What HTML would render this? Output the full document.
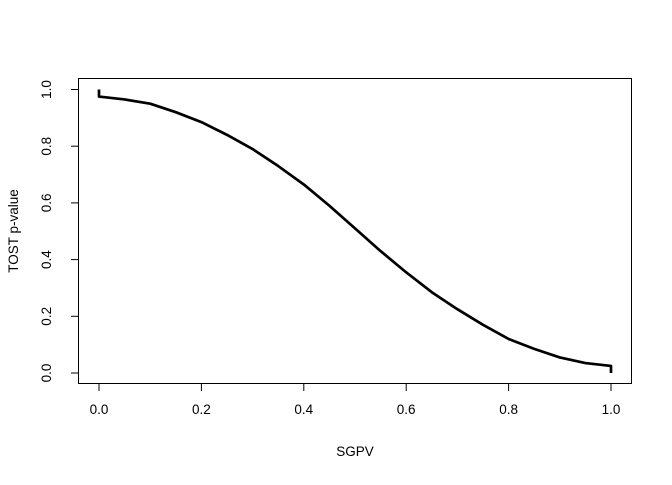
<!DOCTYPE html>
<html><head><meta charset="utf-8"><style>
body{margin:0;background:#fff}
svg text{font-family:"Liberation Sans",Arial,sans-serif;font-size:13.5px;fill:#000}
</style></head><body>
<svg width="672" height="480" viewBox="0 0 672 480">
<rect x="78.5" y="78.5" width="553" height="305" fill="none" stroke="#000"/>
<g id="xaxis"></g>
<g id="yaxis"></g>
<path id="curve" fill="none" stroke="#000" stroke-width="2.7" stroke-linejoin="round"/>
<text x="355" y="456" text-anchor="middle">SGPV</text>
<text transform="translate(18,231) rotate(-90)" text-anchor="middle">TOST p-value</text>
</svg>
<script>
const xTicks=[0,0.2,0.4,0.6,0.8,1.0];
const yTicks=[0,0.2,0.4,0.6,0.8,1.0];
const sgpv=[0,0,0.05,0.1,0.15,0.2,0.25,0.3,0.35,0.4,0.45,0.5,0.55,0.6,0.65,0.7,0.75,0.8,0.85,0.9,0.95,1.0,1.0];
const pval=[1.0,0.975,0.965,0.95,0.92,0.885,0.84,0.79,0.73,0.665,0.59,0.51,0.43,0.355,0.285,0.225,0.17,0.12,0.085,0.055,0.035,0.025,0.0];
const X=v=>99+v*512, Y=v=>373-v*283.5;
const ns="http://www.w3.org/2000/svg";
const xa=document.getElementById('xaxis'), ya=document.getElementById('yaxis');
function mk(t,a,p){const e=document.createElementNS(ns,t);for(const k in a)e.setAttribute(k,a[k]);p.appendChild(e);return e;}
let l=mk('line',{x1:X(0),x2:X(1),y1:383.5,y2:383.5,stroke:'#000'},xa);


xTicks.forEach(v=>{
 const t=mk('line',{x1:X(v),x2:X(v),y1:383.5,y2:391,stroke:'#000'},xa);
 
 
 const s=mk('text',{x:X(v),y:414,'text-anchor':'middle'},xa);s.textContent=v.toFixed(1);
 
 
});
l=mk('line',{x1:78.5,x2:78.5,y1:Y(0),y2:Y(1),stroke:'#000'},ya);


yTicks.forEach(v=>{
 const t=mk('line',{x1:71,x2:78.5,y1:Y(v),y2:Y(v),stroke:'#000'},ya);
 
 
 const s=mk('text',{transform:`translate(51,${Y(v)}) rotate(-90)`,'text-anchor':'middle'},ya);s.textContent=v.toFixed(1);
 
 
});
document.getElementById('curve').setAttribute('d',sgpv.map((v,i)=>(i?'L':'M')+X(v)+' '+Y(pval[i])).join(' '));
</script>
</body></html>
